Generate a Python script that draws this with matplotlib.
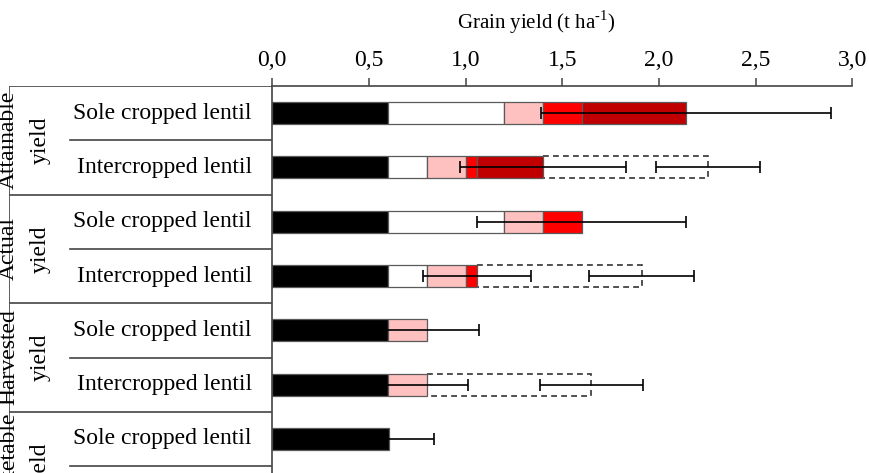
import numpy as np
import matplotlib.pyplot as plt
from matplotlib.patches import Rectangle

plt.rcParams['font.family'] = ['Liberation Serif', 'DejaVu Serif']
plt.rcParams['mathtext.fontset'] = 'custom'
plt.rcParams['mathtext.rm'] = 'Liberation Serif'

# data (t ha-1)
groups = ['Attainable', 'Actual', 'Harvested', 'Marketable']
rows = ['Sole cropped lentil', 'Intercropped lentil'] * 4
seg_black = [0.60, 0.60, 0.60, 0.60, 0.60, 0.60, 0.605]
seg_white = [0.60, 0.20, 0.60, 0.20, 0.0, 0.0, 0.0]
seg_pink = [0.20, 0.20, 0.20, 0.20, 0.20, 0.20, 0.0]
seg_red = [0.20, 0.06, 0.20, 0.06, 0.0, 0.0, 0.0]
seg_darkred = [0.54, 0.34, 0.0, 0.0, 0.0, 0.0, 0.0]
err_bar = [0.75, 0.43, 0.54, 0.28, 0.27, 0.21, 0.23]
dash_end = [np.nan, 2.255, np.nan, 1.91, np.nan, 1.65, np.nan]
err_dash = [np.nan, 0.27, np.nan, 0.27, np.nan, 0.265, np.nan]
xticks = [0, 0.5, 1.0, 1.5, 2.0, 2.5, 3.0]

W, H = 870, 473
fig = plt.figure(figsize=(W / 100, H / 100), dpi=100)

row_px = 54.3
top_px = 86
x0_px, x1_px = 272.3, 852.3
ax_h = len(rows) * row_px / H
ax_top = 1 - top_px / H
ax = fig.add_axes([x0_px / W, ax_top - ax_h, (x1_px - x0_px) / W, ax_h])
ax_t = fig.add_axes([9 / W, ax_top - ax_h, (x0_px - 9) / W, ax_h])

ypos = np.arange(len(seg_black)) + 0.5
bh = 0.405
segs = [seg_black, seg_white, seg_pink, seg_red, seg_darkred]
cols = ['black', 'white', '#ffc0c0', '#ff0000', '#c00000']
left = np.zeros(len(ypos))
for s, c in zip(segs, cols):
    s = np.array(s)
    m = s > 0
    ax.barh(ypos[m], s[m], left=left[m], height=bh, color=c,
            edgecolor='#5a5a5a', linewidth=0.9, zorder=2)
    left = left + s
tot = left

# dashed outline = intercrop total (lentil + companion crop)
for i, d in enumerate(dash_end):
    if not np.isnan(d):
        ax.add_patch(Rectangle((tot[i], ypos[i] - bh / 2), d - tot[i], bh,
                               fill=False, ls=(0, (3.5, 2.5)), lw=1.2,
                               ec='#333333', zorder=1))

ax.errorbar(tot, ypos, xerr=err_bar, fmt='none', ecolor='black',
            elinewidth=1.2, capsize=4, capthick=1.2, zorder=5)
ax.errorbar(np.array(dash_end), ypos, xerr=np.array(err_dash), fmt='none',
            ecolor='black', elinewidth=1.2, capsize=4, capthick=1.2, zorder=5)

ax.set_xlim(0, 3)
ax.set_ylim(len(rows), 0)
ax.set_yticks([])
ax.xaxis.tick_top()
ax.set_xticks(xticks)
ax.set_xticklabels([f'{v:.1f}'.replace('.', ',') for v in xticks])
ax.tick_params(axis='x', direction='out', length=6, width=1.1,
               color='#444444', labelsize=17, pad=5)
for sp in ['right', 'bottom']:
    ax.spines[sp].set_visible(False)
for sp in ['top', 'left']:
    ax.spines[sp].set_color('#444444')
    ax.spines[sp].set_linewidth(1.2)

fig.text(536 / W, 1 - 22 / H, 'Grain yield (t ha$^{\u2010\\mathrm{1}}$)',
         ha='center', va='center', fontsize=15)

# table on the left
ax_t.set_xlim(9, x0_px)
ax_t.set_ylim(len(rows), 0)
ax_t.axis('off')
for k in range(0, len(rows), 2):
    ax_t.plot([9, x0_px], [k, k], color='#444444', lw=1.2)
    ax_t.plot([70, x0_px], [k + 1, k + 1], color='#444444', lw=1.2)
ax_t.plot([9, 9], [0, len(rows)], color='#444444', lw=1.2)
for i, r in enumerate(rows):
    ax_t.text(252, i + 0.5, r, ha='right', va='center', fontsize=17)
for g, name in enumerate(groups):
    yc = 2 * g + 1
    ax_t.text(8.5, yc, name, rotation=90, ha='center', va='center',
              fontsize=17, clip_on=False)
    ax_t.text(40, yc, 'yield', rotation=90, ha='center', va='center',
              fontsize=17, clip_on=False)

fig.savefig('out.png', dpi=100)
